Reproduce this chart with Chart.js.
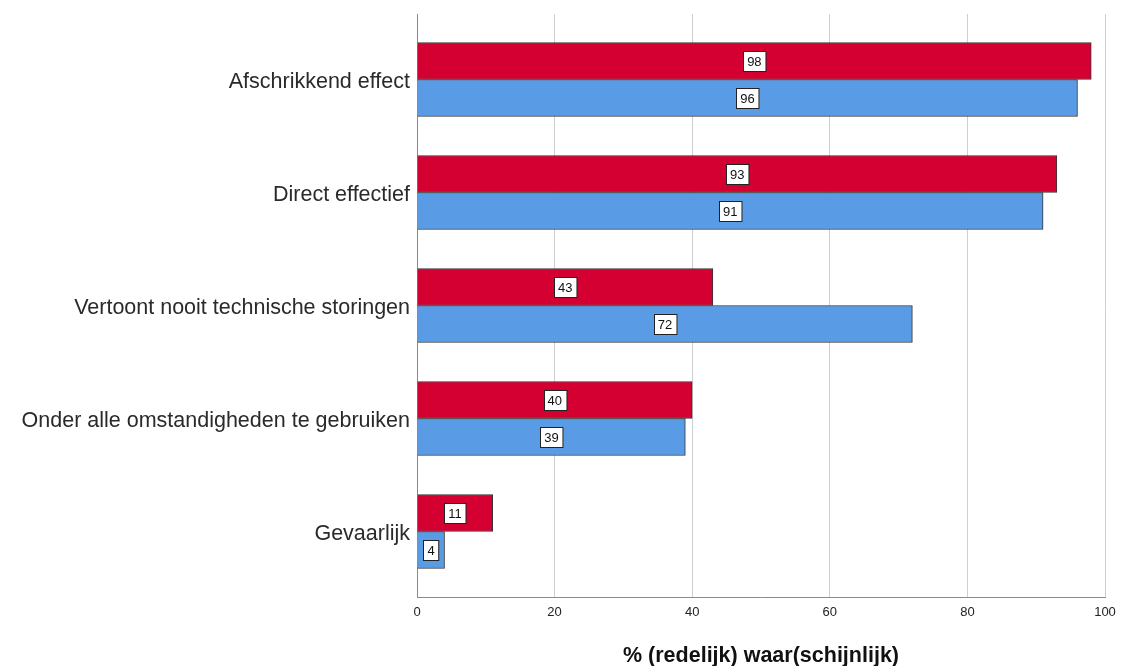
<!DOCTYPE html>
<html>
<head>
<meta charset="utf-8">
<script src="https://cdn.jsdelivr.net/npm/chart.js@4"></script>
<style>
  html, body { margin: 0; padding: 0; background: #fff; }
  #wrap { position: relative; width: 1124px; height: 666px; }
</style>
</head>
<body>
<div id="wrap"><canvas id="chart" width="1124" height="666"></canvas></div>
<script>
// categories (top to bottom)
const categorieen = [
  'Afschrikkend effect',
  'Direct effectief',
  'Vertoont nooit technische storingen',
  'Onder alle omstandigheden te gebruiken',
  'Gevaarlijk'
];
// series values (%)
const reeksRood = [98, 93, 43, 40, 11];
const reeksBlauw = [96, 91, 72, 39, 4];
// x tick labels
const xTicks = [0, 20, 40, 60, 80, 100];

const toPoints = arr => arr.map((v, i) => ({ x: v, y: i }));
const FONT = '"Liberation Sans", Arial, sans-serif';

// white boxed value labels in the middle of each bar
const valueLabels = {
  id: 'valueLabels',
  afterDatasetsDraw(chart) {
    const ctx = chart.ctx;
    ctx.save();
    ctx.font = '13px ' + FONT;
    ctx.textAlign = 'center';
    ctx.textBaseline = 'middle';
    chart.data.datasets.forEach((ds, di) => {
      chart.getDatasetMeta(di).data.forEach((bar, i) => {
        const p = bar.getCenterPoint();
        const txt = String(ds.data[i].x);
        const w = ctx.measureText(txt).width + 8;
        const h = 20;
        const x = Math.round(p.x - w / 2) + 0.5;
        const y = Math.round(p.y - h / 2) + 0.5;
        ctx.fillStyle = '#fff';
        ctx.fillRect(x, y, w, h);
        ctx.strokeStyle = '#222';
        ctx.lineWidth = 1;
        ctx.strokeRect(x, y, w, h);
        ctx.fillStyle = '#111';
        ctx.fillText(txt, p.x, p.y + 1);
      });
    });
    ctx.restore();
  }
};

new Chart(document.getElementById('chart'), {
  type: 'bar',
  data: {
    datasets: [
      { label: 'rood', data: toPoints(reeksRood), backgroundColor: '#D50032', borderColor: '#333', borderWidth: 1, barThickness: 37 },
      { label: 'blauw', data: toPoints(reeksBlauw), backgroundColor: '#5A9BE6', borderColor: '#333', borderWidth: 1, barThickness: 37 }
    ]
  },
  options: {
    indexAxis: 'y',
    responsive: false,
    animation: false,
    layout: { padding: { top: 14, right: 19, left: 0, bottom: 0 } },
    plugins: { legend: { display: false }, tooltip: { enabled: false } },
    scales: {
      x: {
        type: 'linear',
        min: 0,
        max: 100,
        afterBuildTicks: s => { s.ticks = xTicks.map(v => ({ value: v })); },
        afterFit: s => { s.height = 69; },
        grid: { color: '#cfcfcf', lineWidth: 1, drawTicks: false },
        border: { color: '#8a8a8a', width: 1 },
        ticks: { padding: 8, color: '#222', font: { size: 13, family: FONT } },
        title: {
          display: true,
          text: '% (redelijk) waar(schijnlijk)',
          color: '#111',
          padding: { top: 20, bottom: -3 },
          font: { size: 21.5, weight: 'bold', family: FONT }
        }
      },
      y: {
        type: 'linear',
        reverse: true,
        offset: false,
        min: -0.58,
        max: 4.58,
        afterBuildTicks: s => { s.ticks = categorieen.map((c, i) => ({ value: i })); },
        afterFit: s => { s.width = 417; s.paddingTop = 0; s.paddingBottom = 0; },
        grid: { display: false, drawTicks: false, offset: false },
        border: { color: '#8a8a8a', width: 1 },
        ticks: {
          padding: 7,
          labelOffset: 3,
          color: '#2a2a2a',
          font: { size: 21.5, family: FONT },
          callback: v => categorieen[v] !== undefined ? categorieen[v] : ''
        }
      }
    }
  },
  plugins: [valueLabels]
});
</script>
</body>
</html>
